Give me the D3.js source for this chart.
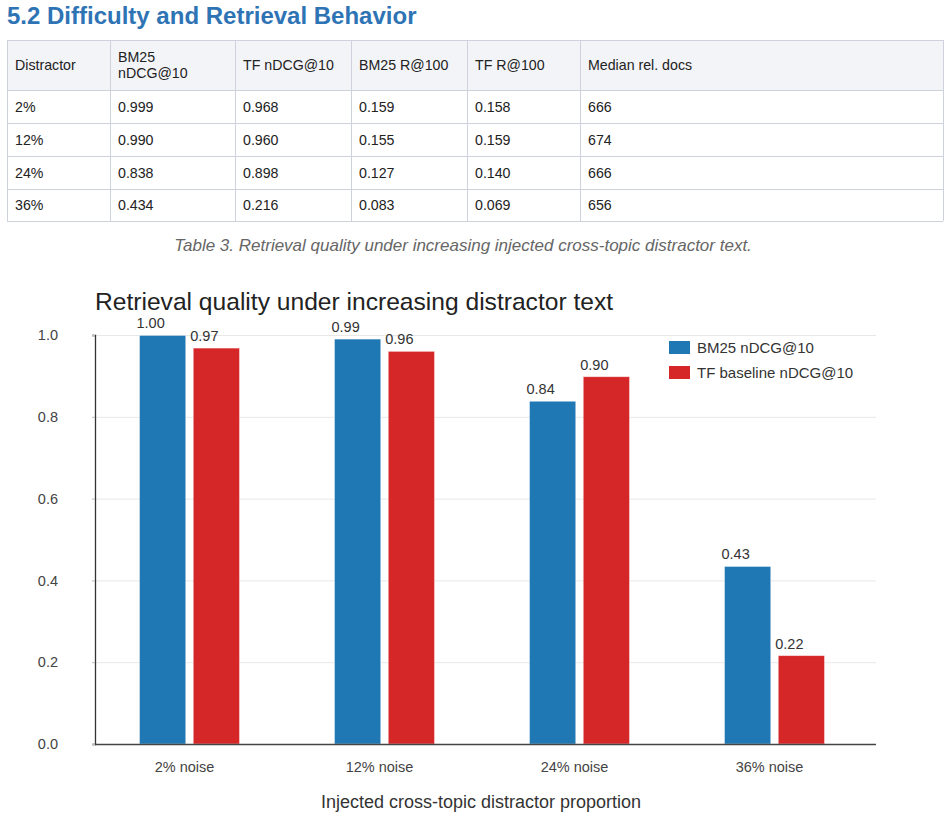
<!DOCTYPE html>
<html><head><meta charset="utf-8">
<script src="https://cdn.jsdelivr.net/npm/d3@7/dist/d3.min.js"></script>
<style>body{margin:0;background:#fff;font-family:"Liberation Sans",Arial,sans-serif;}</style>
</head><body><div id="c"></div>
<script>
// ---- data ----
const tableHeaders = ["Distractor", "BM25\nnDCG@10", "TF nDCG@10", "BM25 R@100", "TF R@100", "Median rel. docs"];
const distractors = ["2%", "12%", "24%", "36%"];
const bm25Ndcg = [0.999, 0.990, 0.838, 0.434];
const tfNdcg = [0.968, 0.960, 0.898, 0.216];
const bm25R100 = [0.159, 0.155, 0.127, 0.083];
const tfR100 = [0.158, 0.159, 0.140, 0.069];
const medianDocs = [666, 674, 666, 656];
const categories = ["2% noise", "12% noise", "24% noise", "36% noise"];
const seriesNames = ["BM25 nDCG@10", "TF baseline nDCG@10"];
const yTicks = [0, 0.2, 0.4, 0.6, 0.8, 1.0];

const W = 950, H = 817;
const FF = '"Liberation Sans", Arial, sans-serif';
const svg = d3.select("#c").append("svg").attr("width", W).attr("height", H)
  .style("font-family", FF);

// heading
svg.append("text").attr("x", 7).attr("y", 24).attr("font-size", 24).attr("font-weight", "bold")
  .attr("fill", "#2e74b5").text("5.2 Difficulty and Retrieval Behavior");

// table
const colX = [7, 110, 235, 351, 467, 580, 943];
const rowY = [40, 90, 123, 156, 189, 221];
const tbl = svg.append("g");
tbl.append("rect").attr("x", colX[0]).attr("y", rowY[0]).attr("width", colX[6] - colX[0])
  .attr("height", rowY[1] - rowY[0]).attr("fill", "#f3f4f8");
rowY.forEach(y => tbl.append("line").attr("x1", colX[0]).attr("x2", colX[6]).attr("y1", y + 0.5).attr("y2", y + 0.5)
  .attr("stroke", "#cdd2dc"));
colX.forEach(x => tbl.append("line").attr("x1", x + 0.5).attr("x2", x + 0.5).attr("y1", rowY[0]).attr("y2", rowY[5])
  .attr("stroke", "#cdd2dc"));
tableHeaders.forEach((h, i) => {
  const lines = h.split("\n");
  const cy = (rowY[0] + rowY[1]) / 2;
  lines.forEach((ln, j) => {
    tbl.append("text").attr("x", colX[i] + 8).attr("y", cy + 5 + (j - (lines.length - 1) / 2) * 16)
      .attr("font-size", 14.2).attr("fill", "#222").text(ln);
  });
});
const rows = distractors.map((d, i) => [d, bm25Ndcg[i].toFixed(3), tfNdcg[i].toFixed(3), bm25R100[i].toFixed(3), tfR100[i].toFixed(3), String(medianDocs[i])]);
rows.forEach((r, ri) => {
  const cy = (rowY[ri + 1] + rowY[ri + 2]) / 2;
  r.forEach((v, ci) => tbl.append("text").attr("x", colX[ci] + 8).attr("y", cy + 5)
    .attr("font-size", 14.2).attr("fill", "#222").text(v));
});
svg.append("text").attr("x", 463).attr("y", 251).attr("text-anchor", "middle").attr("font-size", 17)
  .attr("font-style", "italic").attr("fill", "#666")
  .text("Table 3. Retrieval quality under increasing injected cross-topic distractor text.");

// chart
const m = {l: 95, r: 876, t: 335, b: 744};
const y = d3.scaleLinear().domain([0, 1]).range([m.b, m.t]);
const x0 = d3.scaleBand().domain(categories).range([m.l - 3, m.r - 4]).paddingInner(0).paddingOuter(0);
const x1 = d3.scaleBand().domain(seriesNames).range([x0.bandwidth() / 2 - 50, x0.bandwidth() / 2 + 50]).paddingInner(0.14);
const color = d3.scaleOrdinal().domain(seriesNames).range(["#1f77b4", "#d62728"]);

svg.append("text").attr("x", 95).attr("y", 310).attr("font-size", 24.6).attr("fill", "#222")
  .text("Retrieval quality under increasing distractor text");

// grid
svg.append("g").selectAll("line").data(yTicks.filter(d => d > 0)).join("line")
  .attr("x1", m.l).attr("x2", m.r).attr("y1", d => y(d) + 0.5).attr("y2", d => y(d) + 0.5)
  .attr("stroke", "#e8e8e8");

// y axis
const ya = svg.append("g").attr("transform", `translate(${m.l},0)`)
  .call(d3.axisLeft(y).tickValues(yTicks).tickFormat(d3.format(".1f")).tickSize(3).tickPadding(34));
ya.select(".domain").attr("stroke", "#333").attr("stroke-width", 1.3);
ya.selectAll(".tick line").attr("stroke", "#bbb");
ya.selectAll("text").attr("font-size", 14.5).attr("fill", "#444").attr("font-family", FF);

// bars
const vals = [bm25Ndcg, tfNdcg];
const g = svg.append("g");
categories.forEach((c, ci) => {
  seriesNames.forEach((s, si) => {
    const v = vals[si][ci];
    const bx = x0(c) + x1(s);
    g.append("rect").attr("x", bx).attr("y", y(v)).attr("width", x1.bandwidth()).attr("height", y(0) - y(v))
      .attr("fill", color(s)).attr("stroke", "#fff").attr("stroke-opacity", 0.5).attr("stroke-width", 0.8);
    g.append("text").attr("x", bx - 3).attr("y", y(v) - 7).attr("text-anchor", "start")
      .attr("font-size", 14.5).attr("fill", "#333").text(v.toFixed(2));
  });
});

// x axis
const xa = svg.append("g").attr("transform", `translate(0,${m.b})`)
  .call(d3.axisBottom(x0).tickSize(0).tickPadding(18));
xa.select(".domain").remove();
svg.append("line").attr("x1", m.l).attr("x2", m.r).attr("y1", m.b + 0.5).attr("y2", m.b + 0.5).attr("stroke", "#444").attr("stroke-width", 1.3);
xa.selectAll("text").attr("font-size", 14.5).attr("fill", "#444").attr("dx", -5).attr("font-family", FF);

svg.append("text").attr("x", 481).attr("y", 808).attr("text-anchor", "middle").attr("font-size", 18)
  .attr("fill", "#333").text("Injected cross-topic distractor proportion");

// legend
const lg = svg.append("g").attr("transform", "translate(669,341)");
seriesNames.forEach((s, i) => {
  lg.append("rect").attr("x", 0).attr("y", i * 25).attr("width", 21).attr("height", 13).attr("fill", color(s));
  lg.append("text").attr("x", 28).attr("y", i * 25 + 12).attr("font-size", 15).attr("fill", "#333").text(s);
});
</script></body></html>
